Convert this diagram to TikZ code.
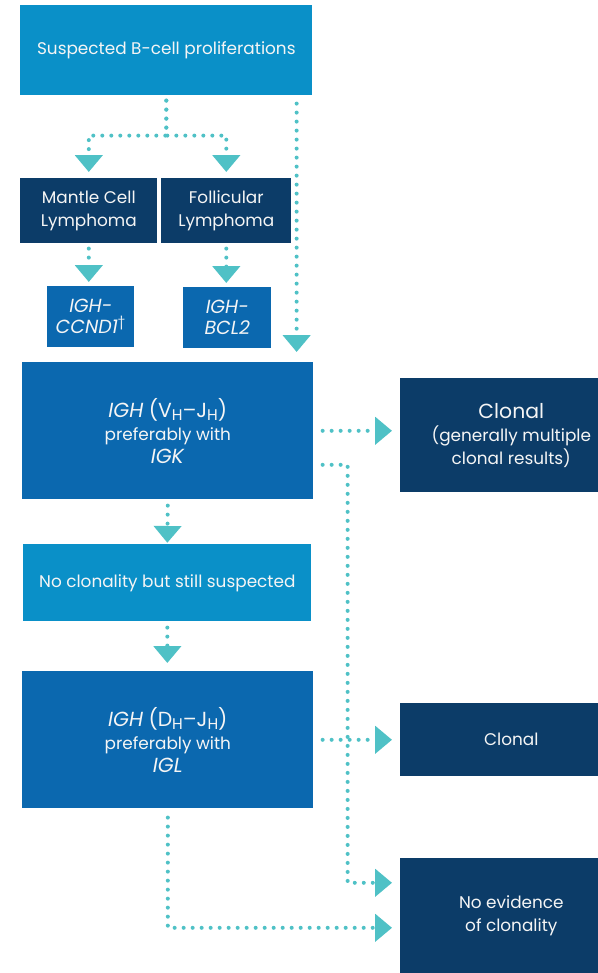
\documentclass[tikz,border=0pt]{standalone}
\usepackage{fontspec}
\setmainfont{Poppins}
\usetikzlibrary{arrows.meta,positioning,calc}
\definecolor{skyblue}{HTML}{0A90C8}
\definecolor{midblue}{HTML}{0B68AF}
\definecolor{navy}{HTML}{0C3C68}
\definecolor{dotteal}{HTML}{4FC1C6}
\newcommand\subH{\raisebox{-0.3ex}{\fontsize{11}{11}\selectfont H}}
\newcommand\gene[1]{{\fontsize{14.5}{17}\selectfont #1}}

\begin{document}
\begin{tikzpicture}[
			x=0.025cm,y=-0.025cm,
			stepbox/.style={anchor=north west,inner sep=0pt,align=center,text=white!96!black,font=\fontsize{12}{16.5}\selectfont},
			start/.style={stepbox,fill=skyblue},
			disease/.style={stepbox,fill=navy},
			assay/.style={stepbox,fill=midblue},
			result/.style={stepbox,fill=navy,minimum width=5.55cm},
			flow/.style={dotteal,line width=0.1cm,line cap=round,dash pattern=on 0pt off 0.225cm,-{Triangle[width=0.675cm,length=0.42cm]}}
			]
			\useasboundingbox (0,0) rectangle (598,973);
			\node[start] (top) at (20,5) [minimum width=7.3cm,minimum height=2.25cm] {Suspected B-cell proliferations};
			\node[disease] (mcl) at (20,178) [minimum width=3.425cm,minimum height=1.625cm] {Mantle Cell\\Lymphoma};
			\node[disease] (fl) at (161,178) [minimum width=3.25cm,minimum height=1.625cm] {Follicular\\Lymphoma};
			\node[assay,font=\fontsize{13.5}{15}\selectfont] (ccnd) at (47,286) [minimum width=2.175cm,minimum height=1.525cm] {\textit{IGH-}\\\textit{CCND1}\textsuperscript{\textdagger}};
			\node[assay,font=\fontsize{13.5}{15}\selectfont] (bcl) at (183,287) [minimum width=2.2cm,minimum height=1.525cm] {\textit{IGH-}\\\textit{BCL2}};
			\node[assay] (igk) at (22,362) [minimum width=7.275cm,minimum height=3.425cm] {\gene{\textit{IGH} (V\subH--J\subH)}\\preferably with\\\gene{\textit{IGK}}};
			\node[result] (clon1) at (400,378) [minimum height=2.85cm] {{\fontsize{14.5}{18}\selectfont Clonal}\\(generally multiple\\clonal results)};
			\node[start] (noclon) at (23,544) [minimum width=7.2cm,minimum height=1.925cm] {No clonality but still suspected};
			\node[assay] (igl) at (22,671) [minimum width=7.275cm,minimum height=3.425cm] {\gene{\textit{IGH} (D\subH--J\subH)}\\preferably with\\\gene{\textit{IGL}}};
			\node[result] (clon2) at (400,703) [minimum height=1.825cm] {Clonal};
			\node[result] (noev) at (400,858) [minimum height=2.875cm] {No evidence\\of clonality};
			% top split
			\draw[flow,shorten <=0.125cm,shorten >=0.15cm] (top.south) -- ++(0,40) -| (mcl.north);
			\draw[flow,shorten <=0.125cm,shorten >=0.15cm] (top.south) -- ++(0,40) -| (fl.north);
			\draw[flow,shorten <=0.2cm,shorten >=0.25cm] ($(top.south east)+(-16,0)$) -- ($(igk.north east)+(-17,0)$);
			\draw[flow,shorten <=0.125cm,shorten >=0.1cm] (mcl.south) -- (mcl.south |- ccnd.north);
			\draw[flow,shorten <=0.125cm,shorten >=0.1cm] (fl.south) -- (fl.south |- bcl.north);
			% results
			\draw[flow,shorten <=0.225cm,shorten >=0.2cm] (igk.east) -- (igk.east -| clon1.west);
			\draw[flow,shorten <=0.225cm,shorten >=0.2cm] ($(igk.east)+(0,34)$) -- ++(34,0) |- ($(noev.west)+(0,-33)$);
			\draw[flow,shorten <=0.15cm,shorten >=0.03cm] (igk.south) -- (noclon.north);
			\draw[flow,shorten <=0.15cm,shorten >=0.2cm] (noclon.south) -- (noclon.south |- igl.north);
			\draw[flow,shorten <=0.225cm,shorten >=0.2cm] (igl.east) -- (clon2.west);
			\draw[flow,shorten <=0.225cm,shorten >=0.2cm] (igl.south) |- ($(noev.west)+(0,12)$);
		\end{tikzpicture}
\end{document}
